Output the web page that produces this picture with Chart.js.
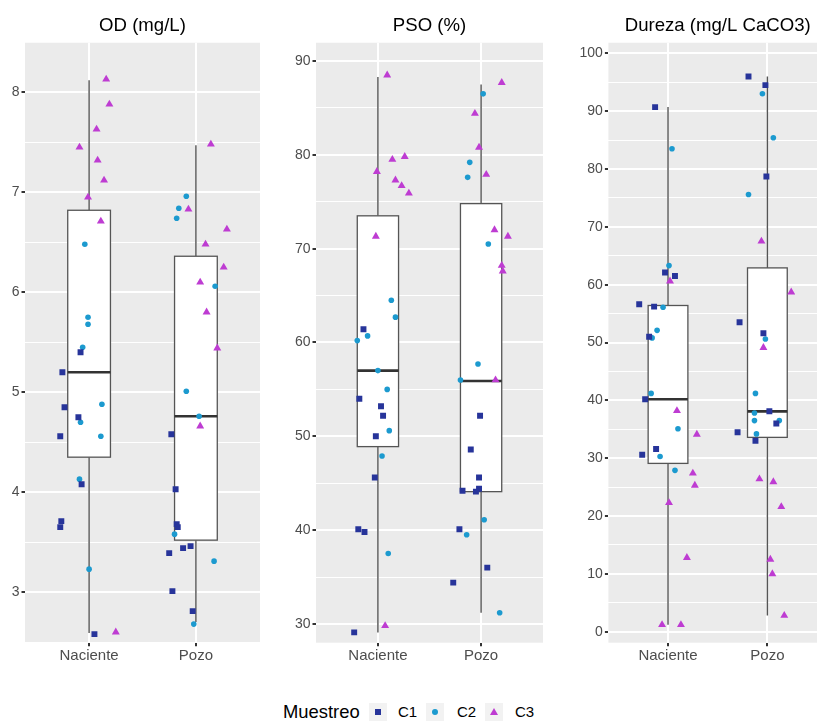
<!DOCTYPE html>
<html>
<head>
<meta charset="utf-8">
<script src="https://cdn.jsdelivr.net/npm/chart.js@4.4.1/dist/chart.umd.min.js"></script>
<style>
body { margin:0; background:#fff; width:817px; height:721px; overflow:hidden; position:relative; font-family:"Liberation Sans", Arial, sans-serif; }
canvas { position:absolute; top:0; }
.lg { position:absolute; color:#000; white-space:nowrap; }
.key { position:absolute; top:703px; width:18px; height:18px; background:#F2F2F2; }
.key i { position:absolute; display:block; }
</style>
</head>
<body>
<canvas id="od" width="270" height="672" style="left:0px"></canvas>
<canvas id="pso" width="273" height="672" style="left:280px"></canvas>
<canvas id="dur" width="272" height="672" style="left:565px"></canvas>

<div class="lg" style="left:283px; top:701px; font-size:18.4px; line-height:22px;">Muestreo</div>
<div class="key" style="left:369px"><i style="left:6px; top:6px; width:6px; height:6px; background:#27349A"></i></div>
<div class="lg" style="left:398px; top:703px; font-size:15px; line-height:18px;">C1</div>
<div class="key" style="left:426px"><i style="left:6px; top:6px; width:6px; height:6px; border-radius:3px; background:#1C9ACF"></i></div>
<div class="lg" style="left:457px; top:703px; font-size:15px; line-height:18px;">C2</div>
<div class="key" style="left:485px"><i style="left:5px; top:5px; width:0; height:0; border-left:4px solid transparent; border-right:4px solid transparent; border-bottom:7px solid #BE3CD2"></i></div>
<div class="lg" style="left:515px; top:703px; font-size:15px; line-height:18px;">C3</div>

<script>
var categories = ["Naciente", "Pozo"];
var groups = ["C1", "C2", "C3"];
var colors = ["#27349A", "#1C9ACF", "#BE3CD2"];

// OD (mg/L)
var OD_C1_NAC = [5.40, 5.20, 4.85, 4.75, 4.56, 4.08, 3.71, 3.65, 2.58];
var OD_C1_NAC_JIT = [-0.08, -0.25, -0.23, -0.10, -0.27, -0.07, -0.26, -0.27, 0.05];
var OD_C2_NAC = [6.48, 5.75, 5.68, 5.45, 4.88, 4.70, 4.56, 4.13, 3.23];
var OD_C2_NAC_JIT = [-0.04, -0.01, -0.01, -0.06, 0.12, -0.08, 0.11, -0.09, 0.00];
var OD_C3_NAC = [8.13, 7.88, 7.63, 7.45, 7.32, 7.12, 6.95, 6.71, 2.60];
var OD_C3_NAC_JIT = [0.16, 0.19, 0.07, -0.09, 0.08, 0.14, -0.01, 0.11, 0.25];
var OD_C1_POZ = [4.58, 4.03, 3.68, 3.65, 3.46, 3.44, 3.39, 3.01, 2.81];
var OD_C1_POZ_JIT = [-0.23, -0.19, -0.18, -0.17, -0.05, -0.12, -0.25, -0.22, -0.03];
var OD_C2_POZ = [6.96, 6.84, 6.74, 6.06, 5.01, 4.76, 3.58, 3.31, 2.68];
var OD_C2_POZ_JIT = [-0.09, -0.16, -0.18, 0.18, -0.09, 0.03, -0.20, 0.17, -0.02];
var OD_C3_POZ = [7.48, 6.83, 6.63, 6.48, 6.25, 6.10, 5.80, 5.44, 4.66];
var OD_C3_POZ_JIT = [0.14, -0.07, 0.29, 0.09, 0.26, 0.04, 0.10, 0.20, 0.04];
// [lower whisker, Q1, median, Q3, upper whisker]
var OD_BOX_NAC = [2.59, 4.35, 5.20, 6.82, 8.12];
var OD_BOX_POZ = [2.70, 3.52, 4.76, 6.36, 7.47];

// PSO (%)
var PSO_C1_NAC = [61.4, 54.0, 53.2, 52.2, 50.0, 45.6, 40.1, 39.8, 29.1];
var PSO_C1_NAC_JIT = [-0.14, -0.18, 0.03, 0.05, -0.02, -0.03, -0.19, -0.13, -0.23];
var PSO_C2_NAC = [64.5, 62.7, 60.7, 60.2, 57.0, 55.0, 50.6, 47.9, 37.5];
var PSO_C2_NAC_JIT = [0.13, 0.17, -0.10, -0.20, 0.00, 0.09, 0.11, 0.04, 0.10];
var PSO_C3_NAC = [88.5, 79.8, 79.5, 78.2, 77.3, 76.7, 75.9, 71.3, 29.8];
var PSO_C3_NAC_JIT = [0.09, 0.26, 0.14, -0.01, 0.17, 0.23, 0.30, -0.02, 0.07];
var PSO_C1_POZ = [52.2, 48.6, 45.6, 44.4, 44.2, 44.1, 40.1, 36.0, 34.4];
var PSO_C1_POZ_JIT = [-0.01, -0.10, -0.02, -0.02, -0.18, -0.05, -0.21, 0.06, -0.27];
var PSO_C2_POZ = [86.5, 79.2, 77.6, 70.5, 57.7, 56.0, 41.1, 39.5, 31.2];
var PSO_C2_POZ_JIT = [0.02, -0.11, -0.13, 0.07, -0.03, -0.20, 0.03, -0.14, 0.18];
var PSO_C3_POZ = [87.7, 84.4, 80.8, 77.9, 72.0, 71.3, 68.2, 67.6, 56.0];
var PSO_C3_POZ_JIT = [0.20, -0.06, -0.02, 0.05, 0.13, 0.26, 0.20, 0.21, 0.14];
var PSO_BOX_NAC = [29.1, 48.9, 57.0, 73.5, 88.3];
var PSO_BOX_POZ = [31.2, 44.1, 55.9, 74.8, 87.5];

// Dureza (mg/L CaCO3)
var DUR_C1_NAC = [90.7, 62.1, 61.5, 56.6, 56.2, 51.0, 40.2, 31.6, 30.6];
var DUR_C1_NAC_JIT = [-0.13, -0.03, 0.07, -0.29, -0.14, -0.19, -0.23, -0.12, -0.26];
var DUR_C2_NAC = [83.5, 63.3, 56.1, 52.1, 50.8, 41.2, 35.1, 30.3, 27.9];
var DUR_C2_NAC_JIT = [0.04, 0.01, -0.05, -0.11, -0.16, -0.17, 0.10, -0.08, 0.07];
var DUR_C3_NAC = [60.6, 38.2, 34.1, 27.4, 25.3, 22.3, 12.8, 1.2, 1.2];
var DUR_C3_NAC_JIT = [0.02, 0.09, 0.29, 0.25, 0.27, 0.01, 0.19, -0.06, 0.13];
var DUR_C1_POZ = [96.0, 94.5, 78.7, 53.5, 51.6, 38.1, 36.0, 34.5, 33.0];
var DUR_C1_POZ_JIT = [-0.19, -0.02, -0.01, -0.28, -0.04, 0.02, 0.09, -0.30, -0.12];
var DUR_C2_POZ = [93.0, 85.4, 75.6, 50.6, 41.2, 37.8, 36.5, 36.5, 34.2];
var DUR_C2_POZ_JIT = [-0.05, 0.06, -0.19, -0.02, -0.12, -0.13, -0.13, 0.12, -0.11];
var DUR_C3_POZ = [67.5, 58.7, 49.1, 26.4, 25.9, 21.6, 12.5, 10.0, 2.8];
var DUR_C3_POZ_JIT = [-0.06, 0.24, -0.04, -0.08, 0.06, 0.14, 0.03, 0.05, 0.17];
var DUR_BOX_NAC = [1.2, 29.1, 40.2, 56.4, 90.7];
var DUR_BOX_POZ = [2.8, 33.6, 38.1, 62.9, 96.0];

Chart.defaults.font.family = '"Liberation Sans", Arial, sans-serif';

function pts(cat, vals, jit)
{
    return vals.map(function(v, i) { return { x: cat + jit[i], y: v }; });
}

var bgPlugin = {
    id: 'panelBg',
    beforeDraw: function(chart) {
        var a = chart.chartArea, c = chart.ctx;
        c.save();
        c.fillStyle = '#EBEBEB';
        c.fillRect(a.left, a.top, a.right - a.left, a.bottom - a.top);
        c.restore();
    }
};

var boxPlugin = {
    id: 'boxes',
    beforeDatasetsDraw: function(chart) {
        var c = chart.ctx, xs = chart.scales.x, ys = chart.scales.y;
        var boxes = chart.options.boxStats;
        c.save();
        boxes.forEach(function(b, i) {
            var cx = xs.getPixelForValue(i + 1);
            var l = xs.getPixelForValue(i + 1 - 0.2), r = xs.getPixelForValue(i + 1 + 0.2);
            var lo = ys.getPixelForValue(b[0]), q1 = ys.getPixelForValue(b[1]);
            var md = ys.getPixelForValue(b[2]), q3 = ys.getPixelForValue(b[3]);
            var hi = ys.getPixelForValue(b[4]);
            c.strokeStyle = '#555555';
            c.lineWidth = 1.4;
            c.beginPath();
            c.moveTo(cx, q3); c.lineTo(cx, hi);
            c.moveTo(cx, q1); c.lineTo(cx, lo);
            c.stroke();
            c.fillStyle = '#FFFFFF';
            c.fillRect(l, q3, r - l, q1 - q3);
            c.lineWidth = 1.3;
            c.strokeRect(l, q3, r - l, q1 - q3);
            c.strokeStyle = '#333333';
            c.lineWidth = 2.6;
            c.beginPath();
            c.moveTo(l, md); c.lineTo(r, md);
            c.stroke();
        });
        c.restore();
    }
};

function makePanel(id, title, yMin, yMax, yStep, yWidth, boxStats, series)
{
    var isMajor = function(v) { return Math.abs(v / yStep - Math.round(v / yStep)) < 1e-6; };
    var yTicks = [];
    var half = yStep / 2;
    for (var k = Math.ceil(yMin / half); k * half <= yMax; k++) yTicks.push(k * half);

    var datasets = series.map(function(s, g) {
        return {
            label: groups[g],
            data: pts(1, s[0], s[1]).concat(pts(2, s[2], s[3])),
            pointStyle: ['rect', 'circle', 'triangle'][g],
            pointRadius: [4.2, 2.8, 4.6][g],
            backgroundColor: colors[g],
            borderWidth: 0
        };
    });

    return new Chart(document.getElementById(id), {
        type: 'scatter',
        data: { datasets: datasets },
        options: {
            responsive: false,
            animation: false,
            boxStats: boxStats,
            layout: { padding: { left: 0, right: 10, top: 0, bottom: 0 } },
            plugins: {
                legend: { display: false },
                tooltip: { enabled: false },
                title: {
                    display: true, text: title, fullSize: false, color: '#000000',
                    font: { size: 18.6, weight: 'normal', lineHeight: 1.2 },
                    padding: { top: 14.5, bottom: 5.9 }
                }
            },
            scales: {
                x: {
                    type: 'linear', min: 0.4, max: 2.6,
                    afterBuildTicks: function(s) { s.ticks = [{ value: 1 }, { value: 2 }]; },
                    afterFit: function(s) { s.height = 29.3; },
                    ticks: {
                        autoSkip: false, maxRotation: 0, padding: 1, color: '#4D4D4D',
                        font: { size: 15 },
                        callback: function(v) { return categories[v - 1]; }
                    },
                    grid: { color: '#FFFFFF', lineWidth: 2, tickLength: 3.5, tickColor: '#333333' },
                    border: { display: false }
                },
                y: {
                    min: yMin, max: yMax,
                    afterBuildTicks: function(s) { s.ticks = yTicks.map(function(v) { return { value: v }; }); },
                    afterFit: function(s) { s.width = yWidth; },
                    ticks: {
                        autoSkip: false, padding: 2, color: '#4D4D4D',
                        font: { size: 14 },
                        callback: function(v) { return isMajor(v) ? String(Math.round(v)) : ''; }
                    },
                    grid: {
                        color: '#FFFFFF',
                        lineWidth: function(c) { return c.tick && isMajor(c.tick.value) ? 2 : 1; },
                        tickLength: 3.5,
                        tickColor: function(c) { return c.tick && isMajor(c.tick.value) ? '#333333' : 'rgba(0,0,0,0)'; }
                    },
                    border: { display: false }
                }
            }
        },
        plugins: [bgPlugin, boxPlugin]
    });
}

makePanel('od', 'OD (mg/L)', 2.494, 8.496, 1, 25, [OD_BOX_NAC, OD_BOX_POZ], [
    [OD_C1_NAC, OD_C1_NAC_JIT, OD_C1_POZ, OD_C1_POZ_JIT],
    [OD_C2_NAC, OD_C2_NAC_JIT, OD_C2_POZ, OD_C2_POZ_JIT],
    [OD_C3_NAC, OD_C3_NAC_JIT, OD_C3_POZ, OD_C3_POZ_JIT]
]);
makePanel('pso', 'PSO (%)', 28.0, 91.95, 10, 36, [PSO_BOX_NAC, PSO_BOX_POZ], [
    [PSO_C1_NAC, PSO_C1_NAC_JIT, PSO_C1_POZ, PSO_C1_POZ_JIT],
    [PSO_C2_NAC, PSO_C2_NAC_JIT, PSO_C2_POZ, PSO_C2_POZ_JIT],
    [PSO_C3_NAC, PSO_C3_NAC_JIT, PSO_C3_POZ, PSO_C3_POZ_JIT]
]);
makePanel('dur', 'Dureza (mg/L CaCO3)', -1.90, 101.83, 10, 43.4, [DUR_BOX_NAC, DUR_BOX_POZ], [
    [DUR_C1_NAC, DUR_C1_NAC_JIT, DUR_C1_POZ, DUR_C1_POZ_JIT],
    [DUR_C2_NAC, DUR_C2_NAC_JIT, DUR_C2_POZ, DUR_C2_POZ_JIT],
    [DUR_C3_NAC, DUR_C3_NAC_JIT, DUR_C3_POZ, DUR_C3_POZ_JIT]
]);
</script>
</body>
</html>
